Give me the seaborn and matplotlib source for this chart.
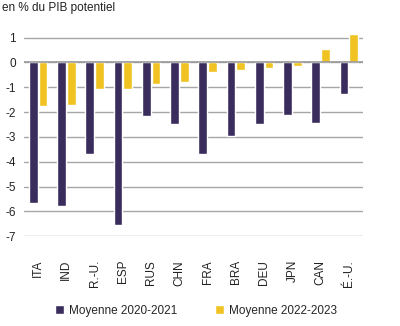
import matplotlib
matplotlib.use("Agg")
import matplotlib.pyplot as plt
import seaborn as sns
import pandas as pd

countries = ["ITA", "IND", "R.-U.", "ESP", "RUS", "CHN", "FRA", "BRA", "DEU", "JPN", "CAN", "É.-U."]
avg_2020_2021 = [-5.65, -5.78, -3.70, -6.55, -2.17, -2.48, -3.70, -2.98, -2.48, -2.10, -2.43, -1.26]
avg_2022_2023 = [-1.77, -1.70, -1.06, -1.06, -0.88, -0.80, -0.40, -0.29, -0.23, -0.16, 0.55, 1.14]
series_names = ["Moyenne 2020-2021", "Moyenne 2022-2023"]
y_ticks = [1, 0, -1, -2, -3, -4, -5, -6, -7]

df = pd.DataFrame({
    "pays": countries * 2,
    "valeur": avg_2020_2021 + avg_2022_2023,
    "periode": [series_names[0]] * len(countries) + [series_names[1]] * len(countries),
})

sns.set_theme(style="white")
plt.rcParams["font.family"] = ["Liberation Sans", "DejaVu Sans"]

fig = plt.figure(figsize=(4.0, 3.26), dpi=100)
ax = fig.add_axes([0.06, 0.275, 0.8475, 0.648])

palette = {series_names[0]: "#3a2d5e", series_names[1]: "#f0c322"}
sns.barplot(data=df, x="pays", y="valeur", hue="periode", palette=palette,
            width=0.7, gap=0.12, saturation=1, ax=ax, legend=True, zorder=3)

ax.set_ylim(-7, 1.5)
ax.set_xlim(-0.5, len(countries) - 0.5)
ax.set_yticks(y_ticks)
ax.set_yticklabels([str(t) for t in y_ticks], fontsize=8.5, color="#222222")
ax.yaxis.grid(True, color="#a6a6a6", linewidth=1.0, zorder=0)
ax.axhline(0, color="#9a9a9a", linewidth=1.2, zorder=4)
ax.set_axisbelow(True)
for s in ax.spines.values():
    s.set_visible(False)
ax.tick_params(axis="y", length=0, pad=6)
ax.tick_params(axis="x", length=0, pad=17)
ax.set_xticks(range(len(countries)))
ax.set_xticklabels(countries, rotation=90, fontsize=8.5, color="#222222", va="top")
ax.set_xlabel("")
ax.set_ylabel("")

handles, labels = ax.get_legend_handles_labels()
ax.legend_.remove()
fig.legend(handles, labels, loc="center", bbox_to_anchor=(0.49, 0.047), ncol=2,
           frameon=False, fontsize=8.5, handlelength=0.75, handleheight=0.75,
           handletextpad=0.4, columnspacing=3.2, borderaxespad=0)

fig.text(0.005, 0.975, "en % du PIB potentiel", fontsize=8.5, color="#222222",
         ha="left", va="center")

fig.savefig("out.png", dpi=100)
